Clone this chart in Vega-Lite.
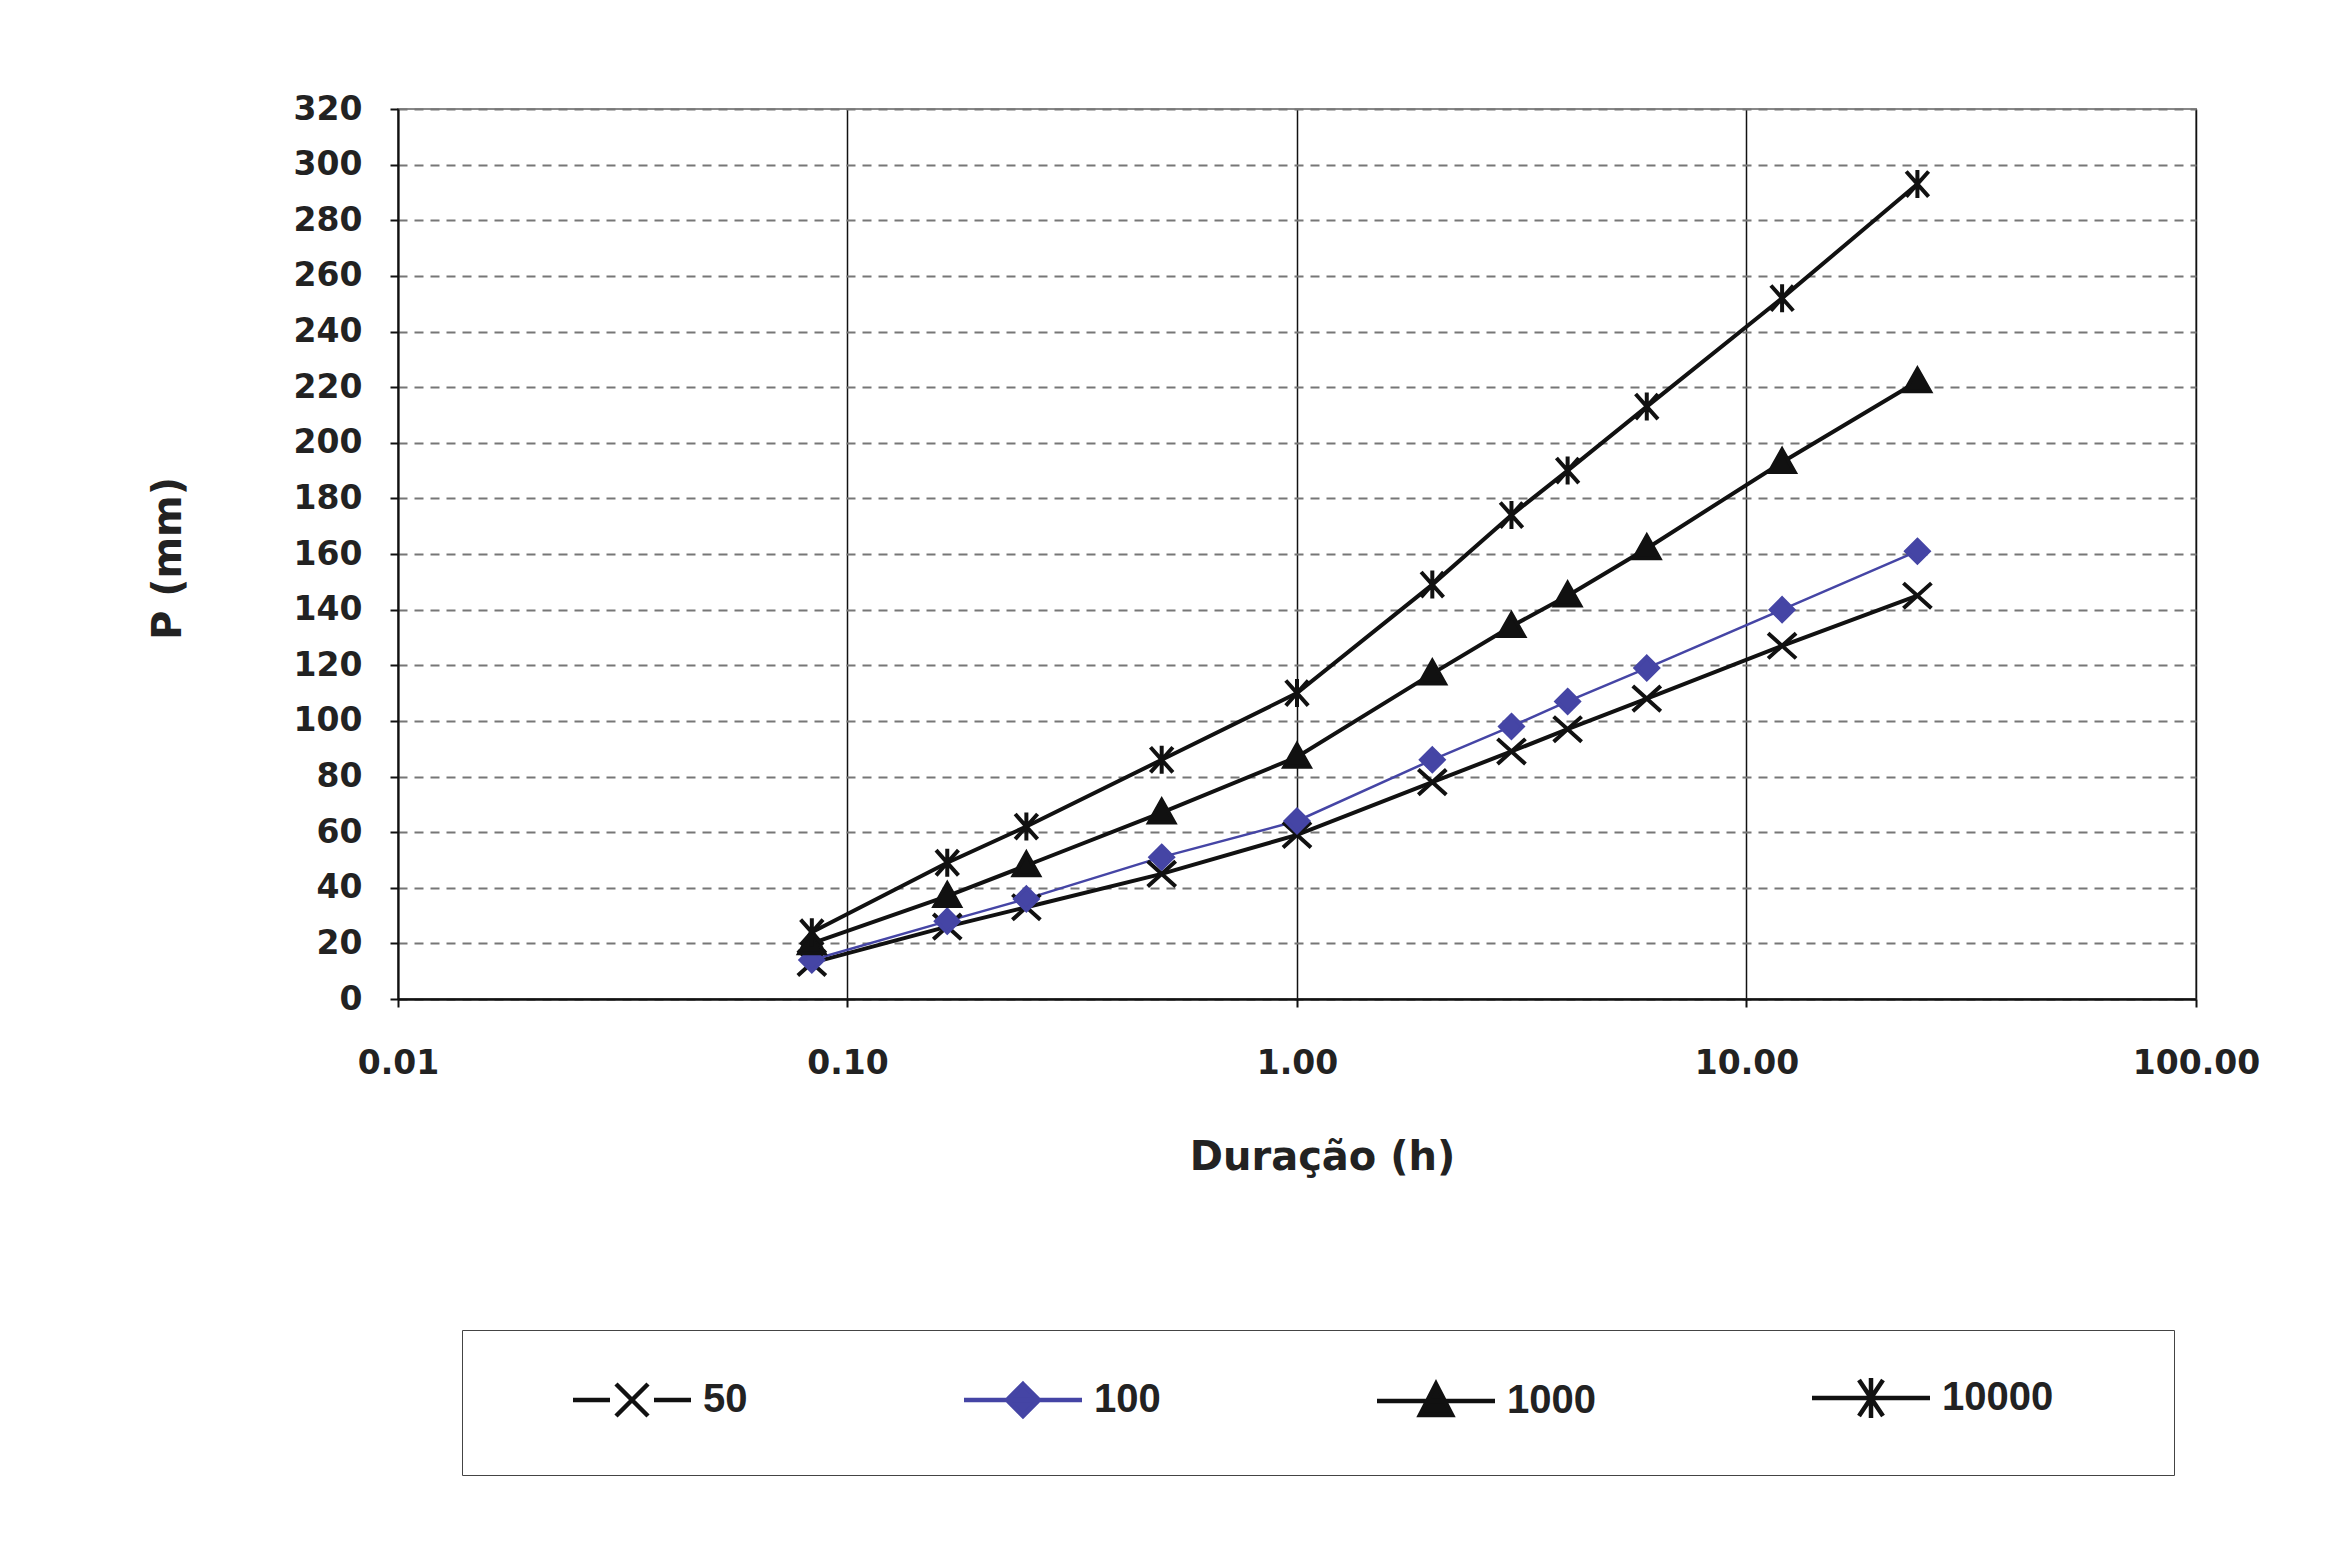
{
  "$schema": "https://vega.github.io/schema/vega-lite/v6.json",
  "width": 1798,
  "height": 890,
  "autosize": {"type": "none"},
  "padding": {"left": 398, "top": 109, "right": 132, "bottom": 556},
  "background": "white",
  "view": {"stroke": "#888", "strokeWidth": 2},
  "data": {
    "values": [
      {"d": 0.0833, "P": 13, "series": "50"},
      {"d": 0.1667, "P": 26, "series": "50"},
      {"d": 0.25, "P": 33, "series": "50"},
      {"d": 0.5, "P": 45, "series": "50"},
      {"d": 1, "P": 59, "series": "50"},
      {"d": 2, "P": 78, "series": "50"},
      {"d": 3, "P": 89, "series": "50"},
      {"d": 4, "P": 97, "series": "50"},
      {"d": 6, "P": 108, "series": "50"},
      {"d": 12, "P": 127, "series": "50"},
      {"d": 24, "P": 145, "series": "50"},
      {"d": 0.0833, "P": 14, "series": "100"},
      {"d": 0.1667, "P": 28, "series": "100"},
      {"d": 0.25, "P": 36, "series": "100"},
      {"d": 0.5, "P": 51, "series": "100"},
      {"d": 1, "P": 64, "series": "100"},
      {"d": 2, "P": 86, "series": "100"},
      {"d": 3, "P": 98, "series": "100"},
      {"d": 4, "P": 107, "series": "100"},
      {"d": 6, "P": 119, "series": "100"},
      {"d": 12, "P": 140, "series": "100"},
      {"d": 24, "P": 161, "series": "100"},
      {"d": 0.0833, "P": 20, "series": "1000"},
      {"d": 0.1667, "P": 37, "series": "1000"},
      {"d": 0.25, "P": 48, "series": "1000"},
      {"d": 0.5, "P": 67, "series": "1000"},
      {"d": 1, "P": 87, "series": "1000"},
      {"d": 2, "P": 117, "series": "1000"},
      {"d": 3, "P": 134, "series": "1000"},
      {"d": 4, "P": 145, "series": "1000"},
      {"d": 6, "P": 162, "series": "1000"},
      {"d": 12, "P": 193, "series": "1000"},
      {"d": 24, "P": 222, "series": "1000"},
      {"d": 0.0833, "P": 24, "series": "10000"},
      {"d": 0.1667, "P": 49, "series": "10000"},
      {"d": 0.25, "P": 62, "series": "10000"},
      {"d": 0.5, "P": 86, "series": "10000"},
      {"d": 1, "P": 110, "series": "10000"},
      {"d": 2, "P": 149, "series": "10000"},
      {"d": 3, "P": 174, "series": "10000"},
      {"d": 4, "P": 190, "series": "10000"},
      {"d": 6, "P": 213, "series": "10000"},
      {"d": 12, "P": 252, "series": "10000"},
      {"d": 24, "P": 293, "series": "10000"}
    ]
  },
  "encoding": {
    "x": {
      "field": "d",
      "type": "quantitative",
      "scale": {"type": "log", "domain": [0.01, 100], "nice": false},
      "axis": {
        "values": [0.01, 0.1, 1, 10, 100],
        "format": ".2f",
        "grid": true,
        "gridColor": "#111",
        "gridWidth": 1.5,
        "gridOpacity": 1,
        "domainColor": "#111",
        "domainWidth": 2.5,
        "tickColor": "#111",
        "tickSize": 8,
        "tickWidth": 2,
        "labelFont": "DejaVu Sans",
        "labelFontWeight": "bold",
        "labelFontSize": 33,
        "labelColor": "#222",
        "labelPadding": 40,
        "labelFlush": false,
        "labelOverlap": false,
        "title": "Duração (h)",
        "titleFont": "DejaVu Sans",
        "titleFontSize": 40,
        "titleFontWeight": "bold",
        "titleColor": "#222",
        "titleX": 924,
        "titleY": 158,
        "titleBaseline": "middle",
        "titleAlign": "center"
      }
    },
    "y": {
      "field": "P",
      "type": "quantitative",
      "scale": {"domain": [0, 320], "nice": false},
      "axis": {
        "values": [0, 20, 40, 60, 80, 100, 120, 140, 160, 180, 200, 220, 240, 260, 280, 300, 320],
        "grid": true,
        "gridColor": "#777",
        "gridWidth": 2,
        "gridDash": [9, 7],
        "gridOpacity": 1,
        "domainColor": "#111",
        "domainWidth": 2,
        "tickColor": "#111",
        "tickSize": 8,
        "tickWidth": 2,
        "labelFont": "DejaVu Sans",
        "labelFontWeight": "bold",
        "labelFontSize": 33,
        "labelColor": "#222",
        "labelPadding": 28,
        "labelOverlap": false,
        "title": "P (mm)",
        "titleFont": "DejaVu Sans",
        "titleFontSize": 40,
        "titleFontWeight": "bold",
        "titleColor": "#222",
        "titleX": -230,
        "titleY": 449,
        "titleBaseline": "middle",
        "titleAlign": "center"
      }
    },
    "color": {
      "field": "series",
      "type": "nominal",
      "scale": {"domain": ["50", "100", "1000", "10000"], "range": ["#111111", "#4545a5", "#111111", "#111111"]},
      "legend": {
        "title": null,
        "orient": "none",
        "legendX": 64,
        "legendY": 1221,
        "direction": "horizontal",
        "columns": 4,
        "padding": 48,
        "strokeColor": "#444",
        "fillColor": "white",
        "labelFont": "Liberation Sans",
        "labelFontSize": 40,
        "labelFontWeight": "bold",
        "labelColor": "#222",
        "labelOffset": 51,
        "symbolOffset": 102,
        "columnPadding": 153,
        "symbolSize": 4,
        "symbolStrokeWidth": 4.5,
        "encode": {
          "symbols": {
            "update": {
              "shape": {"signal": "datum.value == '50' ? 'M-59,0L-22,0M-16,-16L16,16M-16,16L16,-16M22,0L59,0' : datum.value == '100' ? 'M-59,0L59,0M0,-16L16,0L0,16L-16,0Z' : datum.value == '1000' ? 'M-59,0L59,0M0,-17L16,14L-16,14Z' : 'M-59,0L59,0M-12,-18L12,18M-12,18L12,-18M0,-20L0,20M246,0'"},
              "fill": {"signal": "datum.value == '100' ? '#4545a5' : '#111111'"},
              "stroke": {"signal": "datum.value == '100' ? '#4545a5' : '#111111'"},
              "strokeWidth": {"value": 4.5},
              "size": {"value": 4},
              "opacity": {"value": 1},
              "fillOpacity": {"value": 1},
              "strokeOpacity": {"value": 1}
            }
          }
        }
      }
    }
  },
  "layer": [
    {
      "transform": [{"filter": "datum.series != '100'"}],
      "mark": {"type": "line", "strokeWidth": 4}
    },
    {
      "transform": [{"filter": "datum.series == '100'"}],
      "mark": {"type": "line", "strokeWidth": 2.5}
    },
    {
      "mark": {
        "type": "point",
        "filled": true,
        "size": 784,
        "strokeWidth": 4,
        "opacity": 1,
        "shape": {"expr": "datum.series == '50' ? 'M-1,-0.9L1,0.9M-1,0.9L1,-0.9' : datum.series == '100' ? 'M0,-0.8L0.8,0L0,0.8L-0.8,0Z' : datum.series == '1000' ? 'M0,-0.9L0.9,0.7L-0.9,0.7Z' : 'M-0.8,-0.9L0.8,0.9M-0.8,0.9L0.8,-0.9M0,-1L0,1'"},
        "stroke": {"expr": "datum.series == '100' ? '#4545a5' : '#111111'"}
      }
    }
  ]
}
